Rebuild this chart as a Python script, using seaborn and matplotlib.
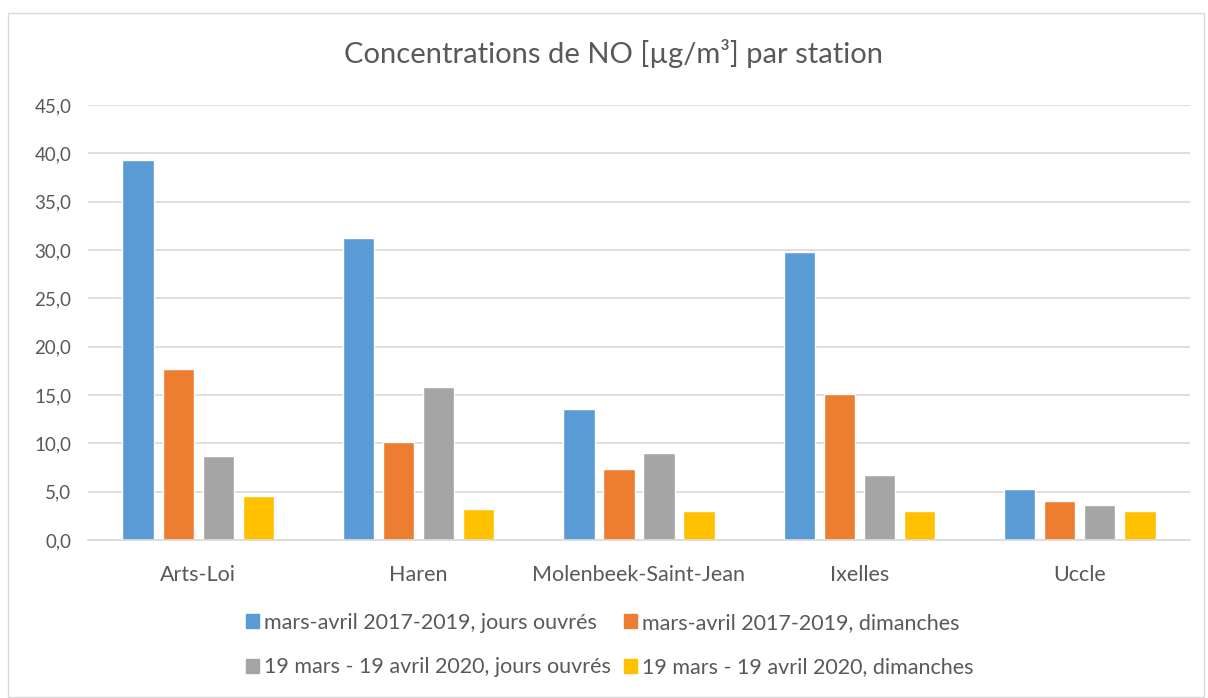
import matplotlib.pyplot as plt
import matplotlib.patches as mpatches
from matplotlib.ticker import FuncFormatter, MultipleLocator
import seaborn as sns
import pandas as pd

stations = ['Arts-Loi', 'Haren', 'Molenbeek-Saint-Jean', 'Ixelles', 'Uccle']
series_names = [
    'mars-avril 2017-2019, jours ouvrés',
    'mars-avril 2017-2019, dimanches',
    '19 mars - 19 avril 2020, jours ouvrés',
    '19 mars - 19 avril 2020, dimanches',
]
ref_weekdays = [39.3, 31.2, 13.6, 29.8, 5.3]
ref_sundays = [17.7, 10.1, 7.3, 15.1, 4.0]
lock_weekdays = [8.7, 15.8, 9.0, 6.7, 3.6]
lock_sundays = [4.6, 3.2, 3.0, 3.0, 3.0]
colors = ['#5B9BD5', '#ED7D31', '#A5A5A5', '#FFC000']

# long table for seaborn
rows = []
for name, vals in zip(series_names, [ref_weekdays, ref_sundays, lock_weekdays, lock_sundays]):
    for st, v in zip(stations, vals):
        rows.append({'station': st, 'serie': name, 'value': v})
df = pd.DataFrame(rows)

sns.set_theme(style='white')
plt.rcParams['font.family'] = ['Lato', 'DejaVu Sans']
text_color = '#595959'

fig = plt.figure(figsize=(12.08, 6.98), dpi=100)
ax = fig.add_axes([88 / 1208, 1 - 540 / 698, (1190 - 88) / 1208, 435 / 698])

sns.barplot(data=df, x='station', y='value', hue='serie', palette=colors,
            width=0.727, gap=0.22, ax=ax, legend=False, saturation=1)

ax.set_xlim(-0.5, 4.5)
ax.set_ylim(0, 45)
ax.yaxis.set_major_locator(MultipleLocator(5))
ax.yaxis.set_major_formatter(FuncFormatter(lambda v, p: f'{v:.1f}'.replace('.', ',')))
ax.grid(axis='y', color='#D9D9D9', linewidth=1.2)
ax.set_axisbelow(True)
for s in ['top', 'right', 'left']:
    ax.spines[s].set_visible(False)
ax.spines['bottom'].set_color('#D9D9D9')
ax.spines['bottom'].set_linewidth(1.2)
ax.tick_params(axis='y', length=0, labelsize=13.5, colors=text_color, pad=12)
ax.tick_params(axis='x', length=0, labelsize=15.5, colors=text_color, pad=18)
ax.set_xlabel('')
ax.set_ylabel('')

fig.text(0.508, 1 - 53 / 698, 'Concentrations de NO [µg/m³] par station',
         ha='center', va='center', fontsize=21, color=text_color)

# legend filled row by row: reorder for matplotlib's column-major fill
order = [0, 2, 1, 3]
handles = [mpatches.Patch(color=colors[i], label=series_names[i]) for i in order]
leg = fig.legend(handles=handles, loc='center', bbox_to_anchor=(0.505, 1 - 645 / 698),
                 ncol=2, frameon=False, fontsize=15.5, handlelength=0.6, handleheight=0.6,
                 handletextpad=0.25, columnspacing=0.6, labelspacing=1.15)
for t in leg.get_texts():
    t.set_color(text_color)

# chart border
fig.patches.append(mpatches.Rectangle((8 / 1208, 0.002), 1196 / 1208, 1 - 14 / 698,
                                      transform=fig.transFigure, fill=False,
                                      edgecolor='#D9D9D9', linewidth=1))

fig.savefig('out.png', dpi=100)
